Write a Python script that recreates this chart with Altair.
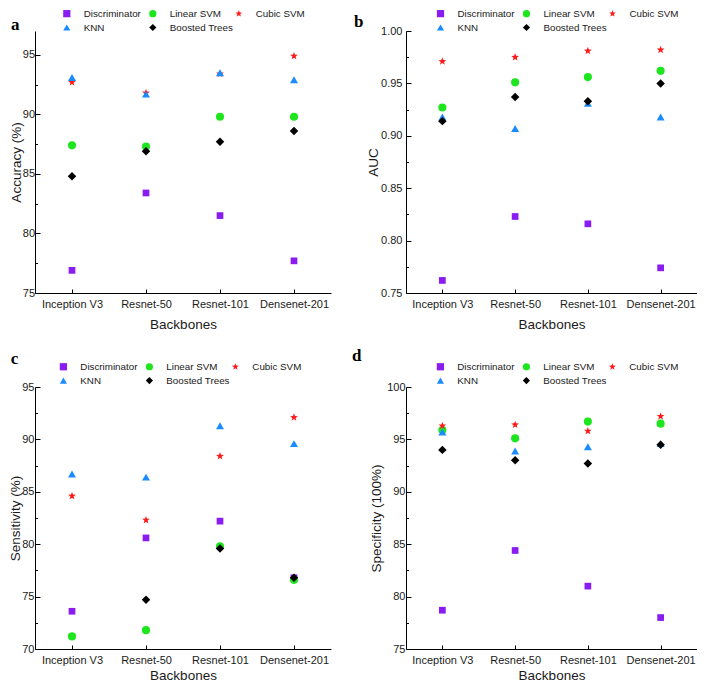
import altair as alt
import pandas as pd

backbones = ["Inception V3", "Resnet-50", "Resnet-101", "Densenet-201"]
methods = ["Discriminator", "Linear SVM", "Cubic SVM", "KNN", "Boosted Trees"]

accuracy = {
    "Discriminator": [76.9, 83.4, 81.5, 77.7],
    "Linear SVM": [87.4, 87.3, 89.8, 89.8],
    "Cubic SVM": [92.7, 91.8, 93.4, 94.9],
    "KNN": [93.1, 91.7, 93.5, 92.9],
    "Boosted Trees": [84.8, 86.9, 87.7, 88.6],
}
auc = {
    "Discriminator": [0.762, 0.823, 0.816, 0.774],
    "Linear SVM": [0.927, 0.951, 0.956, 0.962],
    "Cubic SVM": [0.971, 0.975, 0.981, 0.982],
    "KNN": [0.918, 0.907, 0.931, 0.918],
    "Boosted Trees": [0.914, 0.937, 0.933, 0.950],
}
sensitivity = {
    "Discriminator": [73.6, 80.6, 82.2, 76.8],
    "Linear SVM": [71.2, 71.8, 79.8, 76.6],
    "Cubic SVM": [84.6, 82.3, 88.4, 92.1],
    "KNN": [86.7, 86.4, 91.3, 89.6],
    "Boosted Trees": [67.3, 74.7, 79.6, 76.8],
}
specificity = {
    "Discriminator": [78.7, 84.4, 81.0, 78.0],
    "Linear SVM": [95.9, 95.1, 96.7, 96.5],
    "Cubic SVM": [96.3, 96.4, 95.8, 97.2],
    "KNN": [95.7, 93.9, 94.3, 94.6],
    "Boosted Trees": [94.0, 93.0, 92.7, 94.5],
}

acc_major = [75, 80, 85, 90, 95]
acc_minor = [77.5, 82.5, 87.5, 92.5]
auc_major = [0.75, 0.80, 0.85, 0.90, 0.95, 1.00]
auc_minor = [0.775, 0.825, 0.875, 0.925, 0.975]
sen_major = [70, 75, 80, 85, 90, 95]
sen_minor = [72.5, 77.5, 82.5, 87.5, 92.5]
spe_major = [75, 80, 85, 90, 95, 100]
spe_minor = [77.5, 82.5, 87.5, 92.5, 97.5]

colors = ["#8a1cf2", "#1ee61e", "#ff1a1a", "#1a8cff", "#000000"]
star = ("M0,-1L0.247,-0.34L0.951,-0.309L0.399,0.13L0.588,0.809L0,0.42"
        "L-0.588,0.809L-0.399,0.13L-0.951,-0.309L-0.247,-0.34Z")
shapes = ["square", "circle", star, "triangle-up", "diamond"]
sizes = [45, 66, 66, 64, 72]

FONT = "Liberation Sans"
TXT = "#1a1a1a"
W_LEFT, W_RIGHT, H = 296, 291, 262


def panel(values, letter, ytitle, domain, major, minor, fmt, label_pad,
          ytitle_pad, legend_x, legend_y, title_dx, title_offset, xtitle_pad,
          width):
    rows = []
    for m in methods:
        for b, v in zip(backbones, values[m]):
            rows.append({"Backbone": b, "Method": m, "Value": v})
    df = pd.DataFrame(rows)

    yscale = alt.Scale(domain=domain, nice=False, zero=False)
    legend = alt.Legend(
        orient="none", legendX=legend_x, legendY=legend_y, columns=3,
        direction="horizontal",
        title=None, labelFont=FONT, labelFontSize=9.8, labelColor=TXT,
        labelOffset=12, columnPadding=0, rowPadding=3, symbolSize=52,
        gridAlign="all", padding=0,
    )
    xaxis = alt.Axis(
        title="Backbones", labelAngle=0, labelFont=FONT, labelFontSize=11,
        labelColor=TXT, titleFont=FONT, titleFontSize=13.5,
        titleFontWeight="normal", titleColor=TXT, titlePadding=xtitle_pad,
        domainColor="black", tickColor="black", tickSize={"expr": "-4"},
        labelPadding=9, grid=False,
    )
    yaxis = alt.Axis(
        title=ytitle, values=major, format=fmt, labelFont=FONT,
        labelFontSize=11, labelColor=TXT, labelFlush=False,
        titleFont=FONT, titleFontSize=13.5, titleFontWeight="normal",
        titleColor=TXT, titlePadding=ytitle_pad, domainColor="black",
        tickColor="black", tickSize={"expr": "-5"},
        labelPadding=label_pad, grid=False, orient="left",
    )
    base = alt.Chart(df).encode(
        x=alt.X("Backbone:N", sort=backbones,
                scale=alt.Scale(type="point", padding=0.5), axis=xaxis),
        y=alt.Y("Value:Q", scale=yscale, axis=yaxis),
        color=alt.Color("Method:N", scale=alt.Scale(domain=methods, range=colors),
                        legend=legend),
        shape=alt.Shape("Method:N", scale=alt.Scale(domain=methods, range=shapes),
                        legend=legend),
    )
    layers = [
        base.transform_filter(alt.datum.Method == m)
        .mark_point(filled=True, opacity=1, size=s, clip=True)
        for m, s in zip(methods, sizes)
    ]
    main = alt.layer(*layers)
    minor_layer = alt.Chart(df).mark_point(opacity=0).encode(
        y=alt.Y("Value:Q", scale=yscale, axis=alt.Axis(
            orient="left", values=minor, labels=False, domain=False,
            ticks=True, tickColor="black", tickSize={"expr": "-2.5"},
            title=None, grid=False)),
    )
    return alt.layer(main, minor_layer).resolve_axis(y="independent").properties(
        width=width, height=H,
        title=alt.TitleParams(
            text=letter, anchor="start", frame="group", orient="top",
            font="Liberation Serif", fontSize=17, fontWeight="bold",
            color="black", dx=title_dx, offset=title_offset,
            baseline="alphabetic",
        ),
    )


pa = panel(accuracy, "a", "Accuracy (%)", [75, 97], acc_major, acc_minor, "d",
           5.4, -1, 26.9, -22.4, -23.9, -38.3, 8, W_LEFT)
pb = panel(auc, "b", "AUC", [0.75, 1.0], auc_major, auc_minor, ".2f",
           9, 0, 29.6, -22.4, -52, -35.5, 8, W_RIGHT)
pc = panel(sensitivity, "c", "Sensitivity (%)", [70, 95], sen_major, sen_minor, "d",
           6, -1, 23.5, -25.3, -24.3, -19.3, 3, W_LEFT)
pd_ = panel(specificity, "d", "Specificity (100%)", [75, 100], spe_major, spe_minor, "d",
            6, 3, 29.5, -25.3, -54, -16.5, 3, W_RIGHT)

chart = alt.concat(
    pa, pb, pc, pd_, columns=2, spacing={"row": 94, "column": 75}, bounds="flush",
).resolve_scale(
    color="independent", shape="independent",
).properties(
    padding=0,
).configure_view(stroke=None)

chart.save("out.html", embed_options={"renderer": "svg", "actions": False})
